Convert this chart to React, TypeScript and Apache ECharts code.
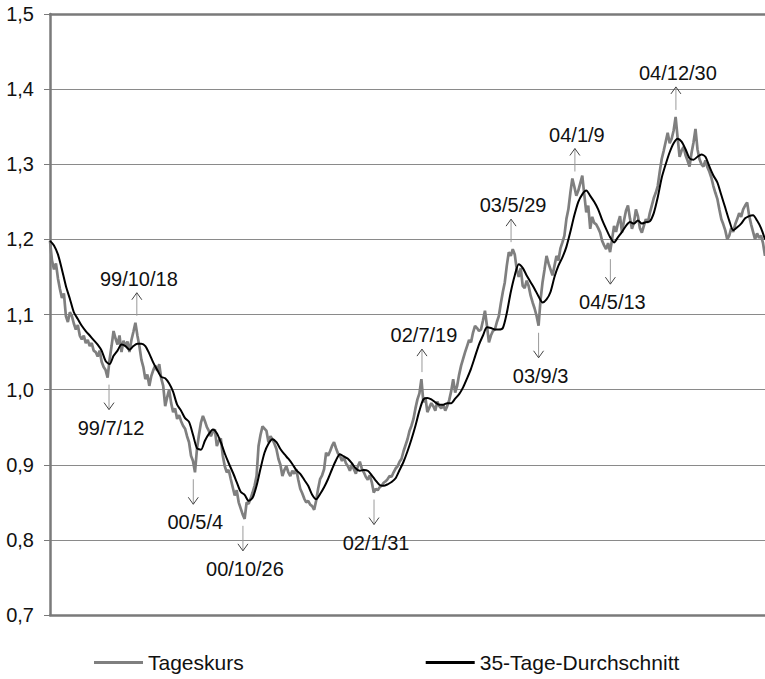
import React, { useEffect, useRef } from 'react';
import * as echarts from 'echarts';

const FONT = 'Liberation Sans, Arial, Helvetica, sans-serif';
const DAY_MS = 86400000;
const WEEK_MS = 7 * DAY_MS;
const START_DATE = '1998-12-16';
const toMs = (s: string) => Date.parse(s + 'T00:00:00Z');

const SERIES_NAMES = ['Tageskurs', '35-Tage-Durchschnitt'];

// Weekly readings of the daily rate (one value per week starting START_DATE)
const TAGESKURS = [
  1.198, 1.172, 1.160, 1.168, 1.148, 1.134, 1.122, 1.128, 1.098, 1.090,
  1.103, 1.098, 1.088, 1.080, 1.086, 1.072, 1.067, 1.072, 1.062, 1.066,
  1.058, 1.062, 1.052, 1.050, 1.044, 1.052, 1.037, 1.030, 1.026, 1.016,
  1.040, 1.058, 1.078, 1.068, 1.060, 1.072, 1.050, 1.065, 1.058, 1.064,
  1.050, 1.066, 1.077, 1.089, 1.072, 1.058, 1.040, 1.030, 1.014, 1.020,
  1.005, 1.018, 1.026, 1.032, 1.025, 1.034, 1.015, 1.005, 0.978, 0.990,
  1.000, 0.982, 0.970, 0.975, 0.961, 0.966, 0.958, 0.952, 0.948, 0.938,
  0.930, 0.912, 0.905, 0.890, 0.921, 0.940, 0.956, 0.965, 0.958, 0.950,
  0.945, 0.938, 0.944, 0.947, 0.925, 0.932, 0.935, 0.912, 0.898, 0.890,
  0.893, 0.881, 0.870, 0.859, 0.866, 0.850, 0.842, 0.834, 0.828, 0.850,
  0.848, 0.855, 0.863, 0.872, 0.885, 0.925, 0.940, 0.951, 0.948, 0.945,
  0.930, 0.938, 0.934, 0.928, 0.921, 0.908, 0.900, 0.885, 0.893, 0.898,
  0.890, 0.885, 0.892, 0.888, 0.894, 0.880, 0.868, 0.862, 0.855, 0.850,
  0.852, 0.847, 0.845, 0.840, 0.852, 0.868, 0.881, 0.886, 0.894, 0.916,
  0.912, 0.918, 0.925, 0.930, 0.922, 0.915, 0.912, 0.905, 0.910, 0.902,
  0.898, 0.892, 0.900, 0.894, 0.888, 0.898, 0.904, 0.895, 0.890, 0.884,
  0.880, 0.886, 0.877, 0.863, 0.868, 0.866, 0.870, 0.872, 0.876, 0.878,
  0.881, 0.885, 0.884, 0.890, 0.895, 0.898, 0.904, 0.908, 0.918, 0.926,
  0.934, 0.945, 0.952, 0.961, 0.975, 0.987, 0.995, 1.014, 0.983, 0.990,
  0.970, 0.976, 0.982, 0.978, 0.972, 0.984, 0.978, 0.975, 0.980, 0.972,
  0.978, 0.986, 0.998, 1.014, 0.996, 1.005, 1.020, 1.032, 1.041, 1.050,
  1.058, 1.066, 1.063, 1.076, 1.085, 1.082, 1.078, 1.080, 1.092, 1.105,
  1.085, 1.063, 1.072, 1.078, 1.080, 1.090, 1.098, 1.115, 1.130, 1.143,
  1.165, 1.183, 1.178, 1.187, 1.180, 1.160, 1.150, 1.162, 1.138, 1.135,
  1.145, 1.138, 1.125, 1.116, 1.108, 1.098, 1.085, 1.120, 1.143, 1.160,
  1.178, 1.168, 1.160, 1.152, 1.165, 1.178, 1.172, 1.188, 1.196, 1.205,
  1.227, 1.240, 1.262, 1.281, 1.270, 1.258, 1.265, 1.275, 1.285, 1.260,
  1.236, 1.245, 1.214, 1.230, 1.222, 1.220, 1.215, 1.209, 1.198, 1.192,
  1.187, 1.195, 1.183, 1.200, 1.218, 1.210, 1.222, 1.231, 1.209, 1.225,
  1.238, 1.245, 1.228, 1.214, 1.222, 1.240, 1.231, 1.215, 1.209, 1.218,
  1.227, 1.222, 1.235, 1.245, 1.255, 1.262, 1.271, 1.290, 1.307, 1.318,
  1.330, 1.342, 1.328, 1.334, 1.345, 1.363, 1.335, 1.310, 1.318, 1.323,
  1.312, 1.305, 1.297, 1.315, 1.329, 1.347, 1.320, 1.307, 1.300, 1.297,
  1.305, 1.296, 1.290, 1.282, 1.271, 1.262, 1.254, 1.240, 1.227, 1.220,
  1.212, 1.200, 1.205, 1.215, 1.210, 1.220, 1.227, 1.235, 1.230, 1.240,
  1.245, 1.249, 1.232, 1.220, 1.210, 1.200, 1.208, 1.202, 1.205, 1.195, 1.178,
];

// 35-day moving average, read every two weeks from START_DATE
const MA35 = [
  1.198, 1.192, 1.180, 1.160, 1.138, 1.121, 1.103, 1.094, 1.085, 1.078,
  1.072, 1.066, 1.060, 1.052, 1.038, 1.034, 1.045, 1.052, 1.060, 1.058,
  1.053, 1.058, 1.061, 1.061, 1.058, 1.048, 1.036, 1.026, 1.017, 1.015,
  1.008, 0.997, 0.980, 0.972, 0.962, 0.957, 0.940, 0.922, 0.920, 0.932,
  0.941, 0.947, 0.942, 0.930, 0.915, 0.902, 0.890, 0.877, 0.864, 0.860,
  0.852, 0.856, 0.872, 0.895, 0.916, 0.928, 0.934, 0.930, 0.921, 0.914,
  0.908, 0.901, 0.893, 0.888, 0.880, 0.872, 0.860, 0.854, 0.861, 0.870,
  0.881, 0.894, 0.906, 0.914, 0.911, 0.908, 0.902, 0.895, 0.892, 0.893,
  0.892, 0.886, 0.879, 0.873, 0.872, 0.874, 0.877, 0.882, 0.893, 0.904,
  0.918, 0.934, 0.952, 0.972, 0.987, 0.989, 0.987, 0.983, 0.980, 0.980,
  0.982, 0.982, 0.988, 0.994, 1.003, 1.015, 1.028, 1.044, 1.060, 1.072,
  1.083, 1.082, 1.080, 1.080, 1.082, 1.102, 1.130, 1.152, 1.167, 1.162,
  1.152, 1.143, 1.134, 1.124, 1.116, 1.120, 1.130, 1.150, 1.165, 1.176,
  1.190, 1.210, 1.232, 1.250, 1.260, 1.265, 1.258, 1.250, 1.240, 1.226,
  1.214, 1.203, 1.196, 1.203, 1.210, 1.218, 1.223, 1.221, 1.225, 1.221,
  1.223, 1.224, 1.235, 1.256, 1.282, 1.300, 1.316, 1.328, 1.334, 1.330,
  1.320, 1.308, 1.306, 1.310, 1.313, 1.310, 1.297, 1.285, 1.276, 1.259,
  1.242, 1.225, 1.212, 1.216, 1.221, 1.228, 1.231, 1.232, 1.225, 1.215,
  1.200,
];

// Annotated turning points
const ANNOT_DATES = [
  '1999-07-12', '1999-10-18', '2000-05-04', '2000-10-26', '2002-01-31', '2002-07-19',
  '2003-05-29', '2003-09-03', '2004-01-09', '2004-05-13', '2004-12-30',
];
const ANNOT_LABELS = [
  '99/7/12', '99/10/18', '00/5/4', '00/10/26', '02/1/31', '02/7/19',
  '03/5/29', '03/9/3', '04/1/9', '04/5/13', '04/12/30',
];
const ANNOT_VALUES = [1.016, 1.089, 0.890, 0.828, 0.863, 1.014, 1.187, 1.085, 1.281, 1.183, 1.363];
const ANNOT_DIR = [-1, 1, -1, -1, -1, 1, 1, -1, 1, -1, 1]; // 1 = peak (arrow up), -1 = trough (arrow down)

const Y_MIN = 0.7;
const Y_MAX = 1.5;
const Y_STEP = 0.1;

export default function App() {
  const ref = useRef<HTMLDivElement>(null);

  useEffect(() => {
    if (!ref.current) return;
    const chart = echarts.init(ref.current, undefined, { renderer: 'svg' });
    const startMs = toMs(START_DATE);
    const dailyData = TAGESKURS.map((v, i) => [startMs + i * WEEK_MS, v]);
    const maData = MA35.map((v, i) => [startMs + i * 2 * WEEK_MS, v]);
    const annotData = ANNOT_DATES.map((d, i) => [toMs(d), ANNOT_VALUES[i]]);
    const xMin = startMs;
    const xMax = startMs + (TAGESKURS.length - 1) * WEEK_MS;
    const axisColor = '#7a7a7a';

    chart.setOption({
      animation: false,
      backgroundColor: '#ffffff',
      textStyle: { fontFamily: FONT },
      grid: { left: 50, right: 0, top: 14, bottom: 64, containLabel: false },
      legend: {
        data: [
          { name: SERIES_NAMES[0], icon: 'rect', itemStyle: { color: '#7f7f7f' } },
          { name: SERIES_NAMES[1], icon: 'rect', itemStyle: { color: '#000000' } },
        ],
        left: 89,
        top: 647,
        itemWidth: 49,
        itemHeight: 3,
        itemGap: 182,
        textStyle: { fontSize: 21, color: '#111', fontFamily: FONT },
      },
      xAxis: [
        {
          type: 'time',
          min: xMin,
          max: xMax,
          position: 'bottom',
          axisLine: { show: true, lineStyle: { color: axisColor, width: 2.5 } },
          axisTick: { show: false },
          axisLabel: { show: false },
          splitLine: { show: false },
        },
        {
          type: 'time',
          min: xMin,
          max: xMax,
          position: 'top',
          axisLine: { show: true, lineStyle: { color: axisColor, width: 2.5 } },
          axisTick: { show: false },
          axisLabel: { show: false },
          splitLine: { show: false },
        },
      ],
      yAxis: {
        type: 'value',
        min: Y_MIN,
        max: Y_MAX,
        interval: Y_STEP,
        axisLine: { show: true, lineStyle: { color: axisColor, width: 2.5 } },
        axisTick: { show: true, length: 6, lineStyle: { color: axisColor, width: 1 } },
        axisLabel: {
          margin: 16,
          fontSize: 20,
          color: '#111',
          fontFamily: FONT,
          formatter: (v: number) => v.toFixed(1).replace('.', ','),
        },
        splitLine: { show: true, lineStyle: { color: '#8a8a8a', width: 1 } },
      },
      series: [
        {
          name: SERIES_NAMES[0],
          type: 'line',
          data: dailyData,
          symbol: 'none',
          showSymbol: false,
          lineStyle: { color: '#7f7f7f', width: 2.7 },
          itemStyle: { color: '#7f7f7f' },
          z: 2,
        },
        {
          name: SERIES_NAMES[1],
          type: 'line',
          data: maData,
          symbol: 'none',
          showSymbol: false,
          smooth: 0.25,
          lineStyle: { color: '#000000', width: 2 },
          itemStyle: { color: '#000000' },
          z: 3,
        },
        {
          type: 'custom',
          data: annotData,
          z: 4,
          clip: false,
          renderItem: (params: any, api: any) => {
            const i = params.dataIndex;
            const p = api.coord([api.value(0), api.value(1)]);
            const x = p[0];
            const dir = ANNOT_DIR[i];
            const y0 = dir > 0 ? p[1] - 7 : p[1] + 7;
            const y1 = dir > 0 ? y0 - 23 : y0 + 25;
            const ah = dir > 0 ? 7 : -7;
            return {
              type: 'group',
              children: [
                {
                  type: 'line',
                  shape: { x1: x, y1: y0, x2: x, y2: y1 },
                  style: { stroke: '#9a9a9a', lineWidth: 1 },
                },
                {
                  type: 'polyline',
                  shape: { points: [[x - 5, y1 + ah], [x, y1], [x + 5, y1 + ah]] },
                  style: { stroke: '#444444', lineWidth: 1, fill: 'none' },
                },
                {
                  type: 'text',
                  x: x + 2,
                  y: dir > 0 ? y1 - 14 : y1 + 18,
                  style: {
                    text: ANNOT_LABELS[i],
                    fontSize: 20,
                    fontFamily: FONT,
                    fill: '#111111',
                    align: 'center',
                    verticalAlign: 'middle',
                  },
                },
              ],
            };
          },
        },
      ],
    });

    return () => chart.dispose();
  }, []);

  return (
    <div
      ref={ref}
      style={{ position: 'fixed', left: 0, top: 0, width: 765, height: 679, background: '#fff' }}
    />
  );
}
